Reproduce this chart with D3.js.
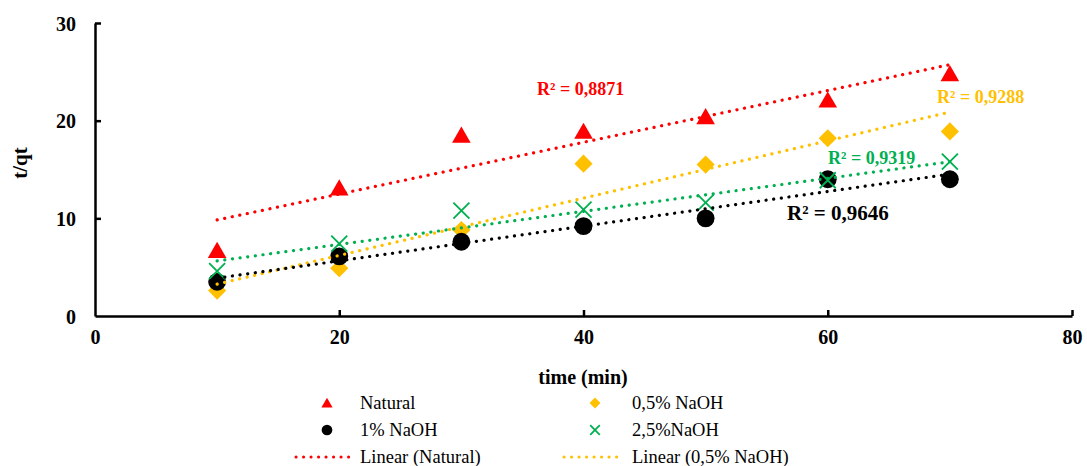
<!DOCTYPE html>
<html>
<head>
<meta charset="utf-8">
<script src="https://cdn.jsdelivr.net/npm/d3@7"></script>
<style>
  html, body { margin: 0; padding: 0; background: #fff; }
  svg { display: block; font-family: "Liberation Serif", "Times New Roman", serif; }
</style>
</head>
<body>
<svg id="chart" width="1087" height="466"></svg>
<script>
// Sampling times (min)
const times = [10, 20, 30, 40, 50, 60, 70];

// t/qt for each treatment
const natural   = [6.7, 13.1, 18.5, 18.9, 20.4, 22.1, 24.8];
const naoh05    = [2.6, 4.9, 8.8, 15.6, 15.5, 18.2, 18.9];
const naoh1     = [3.5, 6.1, 7.6, 9.2, 10.0, 14.0, 14.0];
const naoh25    = [4.6, 7.4, 10.8, 10.9, 11.6, 13.9, 15.8];

const seriesNames = ["Natural", "0,5% NaOH", "1% NaOH", "2,5%NaOH"];
const r2Labels = ["R² = 0,8871", "R² = 0,9288", "R² = 0,9646", "R² = 0,9319"];

const xTicks = [0, 20, 40, 60, 80];
const yTicks = [0, 10, 20, 30];

const colors = ["#ff0000", "#ffc000", "#000000", "#00b050"];
const shapes = ["triangle", "diamond", "circle", "x"];

const series = [natural, naoh05, naoh1, naoh25].map((vals, i) => ({
  name: seriesNames[i], color: colors[i], shape: shapes[i], r2: r2Labels[i],
  points: times.map((t, j) => ({ x: t, y: vals[j] }))
}));

// least-squares fit
function fit(points) {
  const mx = d3.mean(points, d => d.x), my = d3.mean(points, d => d.y);
  const sxy = d3.sum(points, d => (d.x - mx) * (d.y - my));
  const sxx = d3.sum(points, d => (d.x - mx) ** 2);
  const b = sxy / sxx;
  return x => my + b * (x - mx);
}

const svg = d3.select("#chart");
const x = d3.scaleLinear().domain([0, 80]).range([95, 1072]);
const y = d3.scaleLinear().domain([0, 30]).range([316, 23]);

// axes
const xAxis = svg.append("g").attr("transform", "translate(0,316)")
  .call(d3.axisBottom(x).tickValues(xTicks).tickSizeInner(-6).tickSizeOuter(0).tickPadding(14));
const yAxis = svg.append("g").attr("transform", "translate(95,0)")
  .call(d3.axisLeft(y).tickValues(yTicks).tickSizeInner(-6).tickSizeOuter(0).tickPadding(19));
[xAxis, yAxis].forEach(g => {
  g.attr("font-family", "Liberation Serif, serif").attr("font-size", 20);
  g.select(".domain").attr("stroke", "#000").attr("stroke-width", 2.5);
  g.selectAll(".tick line").attr("stroke", "#000").attr("stroke-width", 2.5);
  g.selectAll(".tick text").attr("font-weight", "bold").attr("fill", "#000");
});
yAxis.selectAll(".tick text").attr("dy", "0.35em");
xAxis.selectAll(".tick").filter(d => d === 0).select("line").remove();
yAxis.selectAll(".tick").filter(d => d === 0).select("line").remove();

// axis titles
svg.append("text").attr("x", 583).attr("y", 384).attr("text-anchor", "middle")
  .attr("font-size", 20).attr("font-weight", "bold").text("time (min)");
svg.append("text").attr("transform", "translate(27,163) rotate(-90)")
  .attr("text-anchor", "middle").attr("font-size", 21).attr("font-weight", "bold").text("t/qt");

function drawMarker(g, s, cx, cy, k) {
  if (s.shape === "x") {
    const h = 8 * k;
    g.append("path").attr("transform", `translate(${cx},${cy})`)
      .attr("d", `M${-h},${-h}L${h},${h}M${-h},${h}L${h},${-h}`)
      .attr("stroke", s.color).attr("stroke-width", 1.8).attr("fill", "none");
  } else if (s.shape === "diamond") {
    g.append("path").attr("transform", `translate(${cx},${cy}) rotate(45)`)
      .attr("d", d3.symbol().type(d3.symbolSquare).size(165 * k * k)())
      .attr("fill", s.color);
  } else if (s.shape === "triangle") {
    g.append("path").attr("transform", `translate(${cx},${cy + 2 * k})`)
      .attr("d", d3.symbol().type(d3.symbolTriangle).size(150 * k * k)())
      .attr("fill", s.color);
  } else {
    g.append("path").attr("transform", `translate(${cx},${cy})`)
      .attr("d", d3.symbol().type(d3.symbolCircle).size(250 * k * k)())
      .attr("fill", s.color);
  }
}

// markers
const markG = svg.append("g");
series.forEach(s => {
  s.points.forEach(p => drawMarker(markG, s, x(p.x), y(p.y), 1));
});

// linear trendlines
const lineG = svg.append("g");
series.forEach(s => {
  const f = fit(s.points);
  const x0 = d3.min(times), x1 = d3.max(times);
  lineG.append("line")
    .attr("x1", x(x0)).attr("y1", y(f(x0))).attr("x2", x(x1)).attr("y2", y(f(x1)))
    .attr("stroke", s.color).attr("stroke-width", 3.2)
    .attr("stroke-linecap", "round").attr("stroke-dasharray", "0.1 7.6");
});

// R² annotations
const r2Pos = [
  { x: 537, y: 95, size: 18 },
  { x: 937, y: 103, size: 18 },
  { x: 787, y: 220, size: 21 },
  { x: 828, y: 164, size: 18 }
];
series.forEach((s, i) => {
  svg.append("text").attr("x", r2Pos[i].x).attr("y", r2Pos[i].y)
    .attr("font-size", r2Pos[i].size).attr("font-weight", "bold")
    .attr("fill", s.color).text(s.r2);
});

// legend
const leg = svg.append("g");
const legRows = [
  { s: 0, col: 0, row: 0 }, { s: 1, col: 1, row: 0 },
  { s: 2, col: 0, row: 1 }, { s: 3, col: 1, row: 1 }
];
const colX = [327, 595], textX = [360, 632], rowY = [403, 430, 457];
legRows.forEach(r => {
  const s = series[r.s];
  drawMarker(leg, s, colX[r.col], rowY[r.row], 0.6);
  leg.append("text").attr("x", textX[r.col]).attr("y", rowY[r.row]).attr("dy", "0.35em")
    .attr("font-size", 18.5).text(s.name);
});
[0, 1].forEach(c => {
  const s = series[c];
  leg.append("line").attr("x1", colX[c] - 31).attr("x2", colX[c] + 29)
    .attr("y1", rowY[2]).attr("y2", rowY[2])
    .attr("stroke", s.color).attr("stroke-width", 3).attr("stroke-linecap", "round")
    .attr("stroke-dasharray", "0.1 7.4");
  leg.append("text").attr("x", textX[c]).attr("y", rowY[2]).attr("dy", "0.35em")
    .attr("font-size", 18.5).text(`Linear (${s.name})`);
});
</script>
</body>
</html>
